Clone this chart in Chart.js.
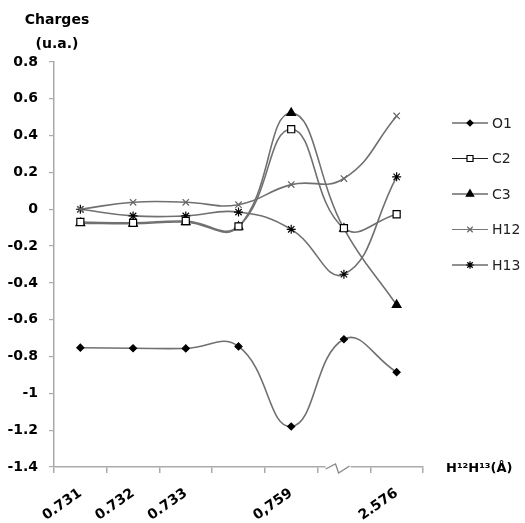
<!DOCTYPE html>
<html><head><meta charset="utf-8">
<script src="https://cdn.jsdelivr.net/npm/chart.js@4/dist/chart.umd.min.js"></script>
<style>html,body{margin:0;padding:0;background:#fff}#wrap{width:525px;height:523px}</style>
</head><body><div id="wrap"><canvas id="c" width="525" height="523"></canvas></div>
<script>
const categories = ['0.731', '0.732', '0.733', '', '0,759', '', '2.576'];
const seriesNames = ['O1', 'C2', 'C3', 'H12', 'H13'];
const O1 = [-0.752, -0.755, -0.756, -0.745, -1.18, -0.706, -0.885];
const C2 = [-0.069, -0.074, -0.064, -0.093, 0.435, -0.103, -0.027];
const C3 = [-0.075, -0.078, -0.070, -0.095, 0.523, -0.105, -0.52];
const H12 = [0.0, 0.038, 0.038, 0.025, 0.134, 0.167, 0.507];
const H13 = [0.0, -0.036, -0.036, -0.015, -0.109, -0.353, 0.176];
const yTicks = [0.8, 0.6, 0.4, 0.2, 0, -0.2, -0.4, -0.6, -0.8, -1, -1.2, -1.4];

const FONT = '"DejaVu Sans", sans-serif';
const lineGray = '#707070';
const styles = [
  {pointStyle:'rectRot', pointRadius:3.5, pointBackgroundColor:'#000', pointBorderColor:'#000', legendLine:'#222'},
  {pointStyle:'rect', pointRadius:5, pointBackgroundColor:'#fff', pointBorderColor:'#000', legendLine:'#222'},
  {pointStyle:'triangle', pointRadius:5, pointBackgroundColor:'#000', pointBorderColor:'#000', legendLine:'#222'},
  {pointStyle:'crossRot', pointRadius:4.5, pointBackgroundColor:'#666', pointBorderColor:'#666', legendLine:'#777'},
  {pointStyle:'star', pointRadius:4.5, pointBackgroundColor:'#000', pointBorderColor:'#000', legendLine:'#222'}
];
const values = [O1, C2, C3, H12, H13];

const datasets = values.map((v, i) => Object.assign({
  label: seriesNames[i],
  data: v,
  borderColor: lineGray,
  borderWidth: 1.6,
  tension: 0.45,
  pointBorderWidth: 1.2,
  fill: false
}, styles[i]));

const extras = {
  id: 'extras',
  afterDraw(chart) {
    const ctx = chart.ctx;
    const xs = chart.scales.x, ys = chart.scales.y;
    ctx.save();
    // y title
    ctx.fillStyle = '#000';
    ctx.font = 'bold 14px ' + FONT;
    ctx.textAlign = 'center';
    ctx.textBaseline = 'middle';
    ctx.fillText('Charges', 57, 20);
    ctx.fillText('(u.a.)', 57, 44);
    // x title
    ctx.font = 'bold 13px ' + FONT;
    ctx.textAlign = 'left';
    ctx.fillText('H\u00B9\u00B2H\u00B9\u00B3(\u00C5)', 446, ys.bottom + 2);
    // axis break
    const bx = (xs.getPixelForValue(4) + xs.getPixelForValue(5)) / 2 + 20;
    const by = ys.bottom;
    ctx.fillStyle = '#fff';
    ctx.fillRect(bx - 12, by - 2, 25, 4);
    ctx.strokeStyle = '#888';
    ctx.lineWidth = 1.3;
    ctx.beginPath();
    ctx.moveTo(bx - 12, by + 2);
    ctx.lineTo(bx - 2, by - 3);
    ctx.lineTo(bx + 1, by + 6);
    ctx.lineTo(bx + 12, by - 1);
    ctx.stroke();
    // legend
    chart.data.datasets.forEach((ds, i) => {
      const y = 123 + i * 35.5;
      ctx.strokeStyle = ds.legendLine;
      ctx.lineWidth = 1.2;
      ctx.beginPath();
      ctx.moveTo(452, y);
      ctx.lineTo(488, y);
      ctx.stroke();
      ctx.fillStyle = ds.pointBackgroundColor;
      ctx.strokeStyle = ds.pointBorderColor;
      ctx.lineWidth = 1.2;
      Chart.helpers.drawPoint(ctx, {pointStyle: ds.pointStyle, radius: ds.pointRadius * 0.85, borderWidth: 1.2, rotation: 0}, 470, y);
      ctx.fillStyle = '#222';
      ctx.font = '14px ' + FONT;
      ctx.textAlign = 'left';
      ctx.textBaseline = 'middle';
      ctx.fillText(ds.label, 492, y + 1);
    });
    ctx.restore();
  }
};

new Chart(document.getElementById('c'), {
  type: 'line',
  data: { labels: categories, datasets },
  options: {
    responsive: false,
    animation: false,
    devicePixelRatio: 1,
    layout: { padding: { left: 0, right: 102, top: 62, bottom: 0 } },
    plugins: { legend: { display: false }, tooltip: { enabled: false } },
    scales: {
      x: {
        type: 'category',
        offset: true,
        afterFit(s) { s.height = 56; },
        border: { display: true, color: '#aaa', width: 1.5 },
        grid: { display: true, offset: true, drawOnChartArea: false, drawTicks: true, tickLength: 6, color: '#aaa', lineWidth: 1.5 },
        ticks: { autoSkip: false, minRotation: 35, maxRotation: 35, padding: 12, color: '#000', font: { family: FONT, size: 14, weight: 'bold' } }
      },
      y: {
        min: -1.4, max: 0.8,
        afterFit(s) { s.width = 54; },
        afterBuildTicks(s) { s.ticks = yTicks.map(v => ({ value: v })); },
        border: { display: true, color: '#aaa', width: 1.5 },
        grid: { display: true, drawOnChartArea: false, drawTicks: true, tickLength: 5, color: '#aaa', lineWidth: 1.2 },
        ticks: { padding: 11, color: '#000', font: { family: FONT, size: 14, weight: 'bold' },
          callback: v => String(Math.round(v * 10) / 10) }
      }
    }
  },
  plugins: [extras]
});
</script></body></html>
